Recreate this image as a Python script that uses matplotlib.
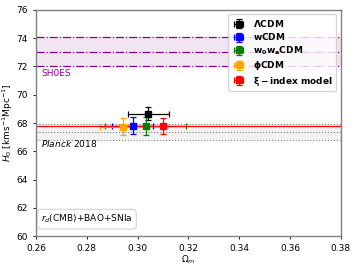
import matplotlib
matplotlib.use("Agg")
import matplotlib.pyplot as plt
import numpy as np

labels = [r'$\mathbf{\Lambda CDM}$', r'$\mathbf{wCDM}$', r'$\mathbf{w_0w_aCDM}$',
          r'$\mathbf{\phi CDM}$', r'$\mathbf{\xi-index\ model}$']
colors = ['black', 'blue', 'green', 'orange', 'red']
om = [0.3042, 0.2980, 0.3032, 0.2941, 0.3100]
om_err = [0.0080, 0.0080, 0.0160, 0.0090, 0.1000]
h0 = [68.67, 67.82, 67.80, 67.75, 67.80]
h0_err = [0.47, 0.60, 0.65, 0.60, 0.55]

shoes = (73.04, 1.04)
planck = (67.36, 0.54)

fig = plt.figure(figsize=(3.57, 2.68), dpi=100)
ax = fig.add_axes([0.101, 0.119, 0.854, 0.844])
fs = 6.5

ax.axhspan(shoes[0]-shoes[1], shoes[0]+shoes[1], color='purple', alpha=0.1, lw=0)
for v in [shoes[0]-shoes[1], shoes[0], shoes[0]+shoes[1]]:
    ax.axhline(v, color='darkmagenta', ls='-.', lw=0.9)
ax.axhspan(planck[0]-planck[1], planck[0]+planck[1], color='gray', alpha=0.1, lw=0)
for v in [planck[0]-planck[1], planck[0], planck[0]+planck[1]]:
    ax.axhline(v, color='gray', ls=':', lw=0.8)

for i in range(len(labels)):
    ax.errorbar(om[i], h0[i], xerr=om_err[i], yerr=h0_err[i], fmt='s', color=colors[i],
                ms=4, capsize=2, elinewidth=0.9, capthick=0.9, label=labels[i])

ax.text(0.262, 71.3, 'SH0ES', color='darkmagenta', fontsize=fs)
ax.text(0.262, 66.3, r'$\it{Planck}$ 2018', color='black', fontsize=fs)
ax.text(0.262, 61.0, r'$r_d$(CMB)+BAO+SNIa', fontsize=fs,
        bbox=dict(boxstyle='round,pad=0.4', fc='white', ec='lightgray', lw=0.8))

ax.set_xlim(0.26, 0.38)
ax.set_ylim(60, 76)
ax.set_xticks(np.arange(0.26, 0.381, 0.02))
ax.set_yticks(np.arange(60, 76.1, 2))
ax.xaxis.set_major_formatter(matplotlib.ticker.FormatStrFormatter('%.2f'))
ax.tick_params(labelsize=fs, length=2.5, width=0.6, colors='black')
for s in ax.spines.values():
    s.set_color('gray')
    s.set_linewidth(1.0)
ax.set_xlabel(r'$\Omega_m$', fontsize=fs, labelpad=0)
ax.set_ylabel(r'$H_0$ [kms$^{-1}$Mpc$^{-1}$]', fontsize=fs, labelpad=1)

ax.legend(loc='upper right', fontsize=fs, handletextpad=0.8, borderpad=0.4,
          labelspacing=0.25, handlelength=1.6, framealpha=0.8)

fig.savefig('out.png', dpi=100)
